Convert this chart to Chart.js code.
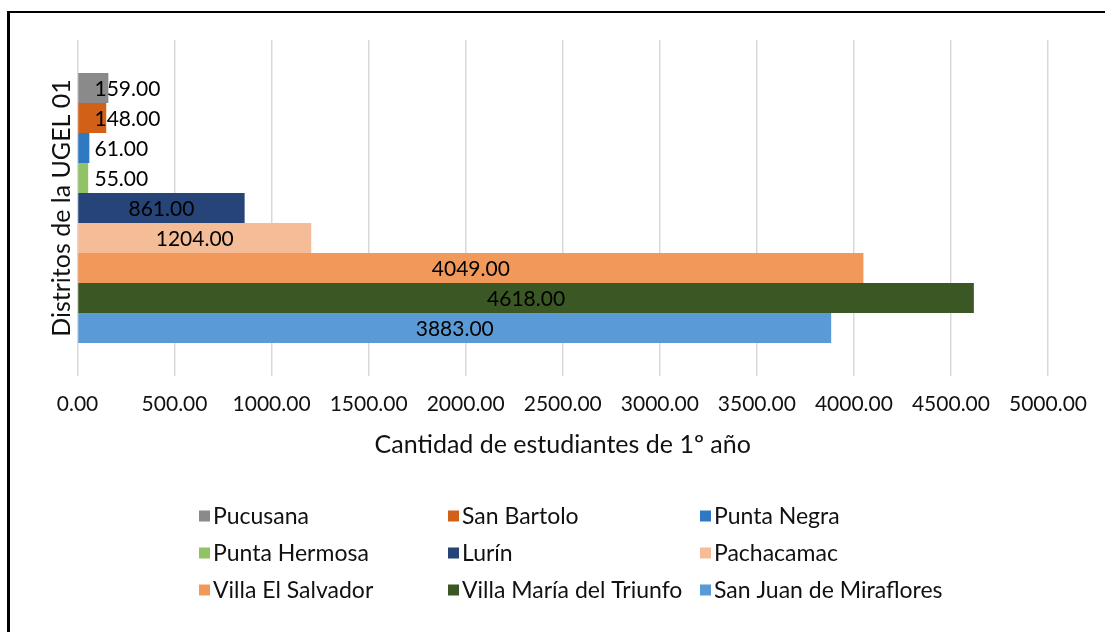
<!DOCTYPE html>
<html>
<head>
<meta charset="utf-8">
<script src="https://cdn.jsdelivr.net/npm/chart.js@4.4.0/dist/chart.umd.min.js"></script>
<style>
  html, body { margin: 0; padding: 0; background: #fff; }
  #wrap { position: relative; width: 1105px; height: 632px; overflow: hidden; }
  #frame { position: absolute; left: 7px; top: 11px; width: 1200px; height: 700px;
           border-left: 3px solid #000; border-top: 2px solid #000; }
  canvas { position: absolute; left: 0; top: 0; }
</style>
</head>
<body>
<div id="wrap">
  <canvas id="myChart" width="1105" height="632"></canvas>
  <div id="frame"></div>
</div>
<script>
const districts = ['Pucusana', 'San Bartolo', 'Punta Negra', 'Punta Hermosa', 'Lurín',
  'Pachacamac', 'Villa El Salvador', 'Villa María del Triunfo', 'San Juan de Miraflores'];
const students = [159, 148, 61, 55, 861, 1204, 4049, 4618, 3883];
const barColors = ['#8a8a8a', '#d26016', '#2f79c3', '#91c266', '#264478',
  '#f5bd97', '#f1995b', '#3a5724', '#5b9bd5'];
const xTicks = [0, 500, 1000, 1500, 2000, 2500, 3000, 3500, 4000, 4500, 5000];
const xTitle = 'Cantidad de estudiantes de 1º año';
const yTitle = 'Distritos de la UGEL 01';

Chart.defaults.font.family = "Lato, sans-serif";
Chart.defaults.font.size = 21;
Chart.defaults.color = '#111';

// labels in the middle of each bar, pushed right when the bar is too short
const barLabels = {
  id: 'barLabels',
  afterDatasetsDraw(chart) {
    const ctx = chart.ctx;
    ctx.save();
    ctx.font = "21px Lato, sans-serif";
    ctx.fillStyle = '#000';
    ctx.textAlign = 'center';
    ctx.textBaseline = 'middle';
    chart.data.datasets.forEach((ds, i) => {
      const bar = chart.getDatasetMeta(i).data[0];
      const text = ds.data[0].toFixed(2);
      const w = ctx.measureText(text).width;
      let x = (bar.x + bar.base) / 2;
      x = Math.max(x, chart.chartArea.left + 17 + w / 2);
      ctx.fillText(text, x, bar.y + 1);
    });
    ctx.restore();
  }
};

// three-column legend under the chart
const gridLegend = {
  id: 'gridLegend',
  afterDraw(chart) {
    const ctx = chart.ctx;
    const colX = [199, 448, 700];
    const rowY = [516, 553, 590];
    ctx.save();
    ctx.font = "23px Lato, sans-serif";
    ctx.textBaseline = 'middle';
    ctx.textAlign = 'left';
    chart.data.datasets.forEach((ds, i) => {
      const x = colX[i % 3];
      const y = rowY[Math.floor(i / 3)];
      ctx.fillStyle = ds.backgroundColor;
      ctx.fillRect(x, y - 5.5, 11, 11);
      ctx.fillStyle = '#111';
      ctx.fillText(ds.label, x + 14, y + 1);
    });
    ctx.restore();
  }
};

const data = {
  labels: [''],
  datasets: districts.map((name, i) => ({
    label: name,
    data: [students[i]],
    backgroundColor: barColors[i],
    barPercentage: 1,
    categoryPercentage: 0.8036
  }))
};

const config = {
  type: 'bar',
  data: data,
  options: {
    responsive: false,
    animation: false,
    indexAxis: 'y',
    layout: { padding: { left: 47, top: 40, right: 57, bottom: 172 } },
    plugins: {
      legend: { display: false },
      tooltip: { enabled: false }
    },
    scales: {
      x: {
        min: xTicks[0],
        max: xTicks[xTicks.length - 1],
        afterBuildTicks: (scale) => { scale.ticks = xTicks.map(v => ({ value: v })); },
        ticks: {
          autoSkip: false,
          maxRotation: 0,
          padding: 16,
          callback: (v) => Number(v).toFixed(2)
        },
        grid: { color: '#d9d9d9', lineWidth: 1.5, drawTicks: false },
        border: { display: false },
        title: { display: true, text: xTitle, padding: 0, font: { size: 25 } },
        afterFit: (scale) => { scale.height = 84; }
      },
      y: {
        ticks: { display: false },
        grid: { display: false, drawTicks: false },
        border: { display: false },
        title: { display: true, text: yTitle, padding: 0, font: { size: 25 } },
        afterFit: (scale) => { scale.width = 30.5; }
      }
    }
  },
  plugins: [barLabels, gridLegend]
};

new Chart(document.getElementById('myChart'), config);
</script>
</body>
</html>
